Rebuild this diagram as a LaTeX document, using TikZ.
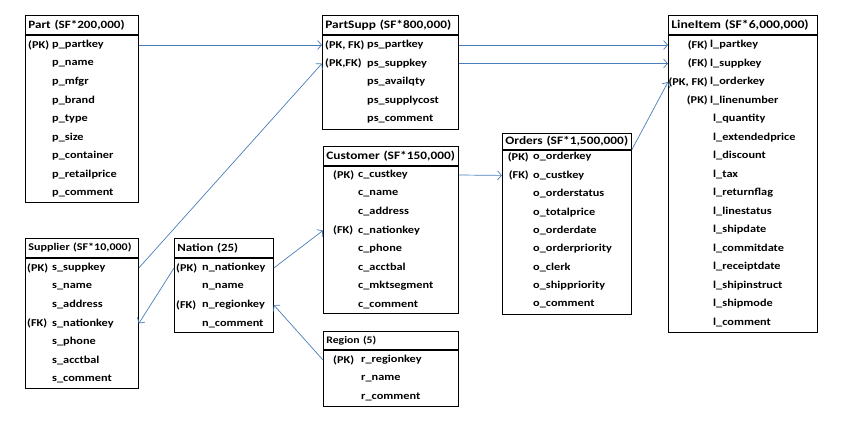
\documentclass[tikz,border=0pt]{standalone}
\usepackage{fontspec}
\setmainfont{Carlito}[FakeStretch=1.17]
\usetikzlibrary{arrows.meta,positioning}
\definecolor{linkBlue}{HTML}{4A7EBB}

\begin{document}
\begin{tikzpicture}[x=1pt, y=-1pt,
        ttl/.style={draw=black, line width=0.8pt, anchor=north west, inner xsep=3pt, inner ysep=0pt,
                    minimum height=19pt, align=left, font=\bfseries\fontsize{11.4}{13}\selectfont},
        tbl/.style={draw=black, line width=0.8pt, inner sep=0pt},
        key/.style={anchor=west, inner sep=0pt, font=\bfseries\fontsize{10.5}{12}\selectfont},
        rkey/.style={key, anchor=east},
        fld/.style={key},
        link/.style={draw=linkBlue, line width=0.7pt, -{Straight Barb[length=4pt,width=9pt]}}
    ]
        \useasboundingbox (0,0) rectangle (850,421);

        % Part
        \node[ttl, text width=107pt, font=\bfseries\fontsize{11.2}{13}\selectfont] (part-t) at (25,15) {Part (SF*200,000)};
        \node[tbl, below=0pt of part-t, minimum width=113pt, minimum height=167pt] (part) {};
        \node[key] (part-k1) at (28,45) {(PK)};
        \foreach \f [count=\i] in {p\_partkey, p\_name, p\_mfgr, p\_brand, p\_type, p\_size,
                                   p\_container, p\_retailprice, p\_comment}
            \node[fld] (part-\i) at (52,{26.5+18.5*\i}) {\f};

        % PartSupp
        \node[ttl, text width=130pt] (ps-t) at (322,15) {PartSupp (SF*800,000)};
        \node[tbl, below=0pt of ps-t, minimum width=136pt, minimum height=94pt] (ps) {};
        \node[key] (ps-k1) at (325,45) {(PK, FK)};
        \node[key] (ps-k2) at (325,63.5) {(PK,FK)};
        \foreach \f [count=\i] in {ps\_partkey, ps\_suppkey, ps\_availqty, ps\_supplycost, ps\_comment}
            \node[fld] (ps-\i) at (367,{26.5+18.5*\i}) {\f};

        % LineItem
        \node[ttl, text width=143pt, font=\bfseries\fontsize{11.7}{13}\selectfont] (li-t) at (668,15) {LineItem (SF*6,000,000)};
        \node[tbl, below=0pt of li-t, minimum width=149pt, minimum height=297pt] (li) {};
        \node[rkey] (li-k1) at (708,45) {(FK)};
        \node[rkey] (li-k2) at (708,63.5) {(FK)};
        \node[rkey] (li-k3) at (708,82) {(PK, FK)};
        \node[rkey] (li-k4) at (708,100.5) {(PK)};
        \foreach \f [count=\i] in {l\_partkey, l\_suppkey, l\_orderkey, l\_linenumber}
            \node[fld] (li-\i) at (710,{26.5+18.5*\i}) {\f};
        \foreach \f [count=\i from 5] in {l\_quantity, l\_extendedprice, l\_discount, l\_tax,
                                          l\_returnflag, l\_linestatus, l\_shipdate, l\_commitdate,
                                          l\_receiptdate, l\_shipinstruct, l\_shipmode, l\_comment}
            \node[fld] (li-\i) at (713,{26.5+18.5*\i}) {\f};

        % Supplier
        \node[ttl, text width=107pt, font=\bfseries\fontsize{10.3}{12}\selectfont] (sup-t) at (25,238) {Supplier (SF*10,000)};
        \node[tbl, below=0pt of sup-t, minimum width=113pt, minimum height=130pt] (sup) {};
        \node[key] (sup-k1) at (27,268) {(PK)};
        \node[key] (sup-k4) at (27,323.5) {(FK)};
        \foreach \f [count=\i] in {s\_suppkey, s\_name, s\_address, s\_nationkey, s\_phone,
                                   s\_acctbal, s\_comment}
            \node[fld] (sup-\i) at (52,{249.5+18.5*\i}) {\f};

        % Nation
        \node[ttl, text width=93pt, font=\bfseries\fontsize{11}{13}\selectfont] (nat-t) at (174,238) {Nation (25)};
        \node[tbl, below=0pt of nat-t, minimum width=99pt, minimum height=74pt] (nat) {};
        \node[key] (nat-k1) at (176,268) {(PK)};
        \node[key] (nat-k3) at (176,305) {(FK)};
        \foreach \f [count=\i] in {n\_nationkey, n\_name, n\_regionkey, n\_comment}
            \node[fld] (nat-\i) at (202,{249.5+18.5*\i}) {\f};

        % Customer
        \node[ttl, text width=129pt] (cus-t) at (323,146) {Customer (SF*150,000)};
        \node[tbl, below=0pt of cus-t, minimum width=135pt, minimum height=147pt] (cus) {};
        \node[key] (cus-k1) at (333,175) {(PK)};
        \node[key] (cus-k4) at (333,230.5) {(FK)};
        \foreach \f [count=\i] in {c\_custkey, c\_name, c\_address, c\_nationkey, c\_phone,
                                   c\_acctbal, c\_mktsegment, c\_comment}
            \node[fld] (cus-\i) at (358,{156.5+18.5*\i}) {\f};

        % Orders
        \node[ttl, text width=123pt, minimum height=16pt] (ord-t) at (502,133) {Orders (SF*1,500,000)};
        \node[tbl, below=0pt of ord-t, minimum width=129pt, minimum height=164pt] (ord) {};
        \node[rkey] (ord-k1) at (529,157) {(PK)};
        \node[rkey] (ord-k2) at (529,175.4) {(FK)};
        \foreach \f [count=\i] in {o\_orderkey, o\_custkey, o\_orderstatus, o\_totalprice, o\_orderdate,
                                   o\_orderpriority, o\_clerk, o\_shippriority, o\_comment}
            \node[fld] (ord-\i) at (533,{138.6+18.4*\i}) {\f};

        % Region
        \node[ttl, text width=129pt, minimum height=18pt, font=\bfseries\fontsize{10}{12}\selectfont] (reg-t) at (323,331) {Region (5)};
        \node[tbl, below=0pt of reg-t, minimum width=135pt, minimum height=56pt] (reg) {};
        \node[key] (reg-k1) at (333,360) {(PK)};
        \foreach \f [count=\i] in {r\_regionkey, r\_name, r\_comment}
            \node[fld] (reg-\i) at (361,{341.5+18.5*\i}) {\f};

        % keys
        \draw[link] (part.east |- part-1) -- (ps.west |- ps-1);
        \draw[link] (sup.east |- sup-1) -- (ps.west |- ps-2);
        \draw[link] (ps.east |- ps-1) -- (li.west |- li-1);
        \draw[link] (ps.east |- ps-2) -- (li.west |- li-2);
        \draw[link] (ord.north east) -- (li.west |- li-3);
        \draw[link] (cus.east |- cus-1) -- (ord.west |- ord-2);
        \draw[link] (nat.east |- nat-1) -- (cus.west |- cus-4);
        \draw[link] (nat.west |- nat-1) -- (sup.east |- sup-4);
        \draw[link] (reg.west |- reg-1) -- (nat.east |- nat-3);
    \end{tikzpicture}
\end{document}
